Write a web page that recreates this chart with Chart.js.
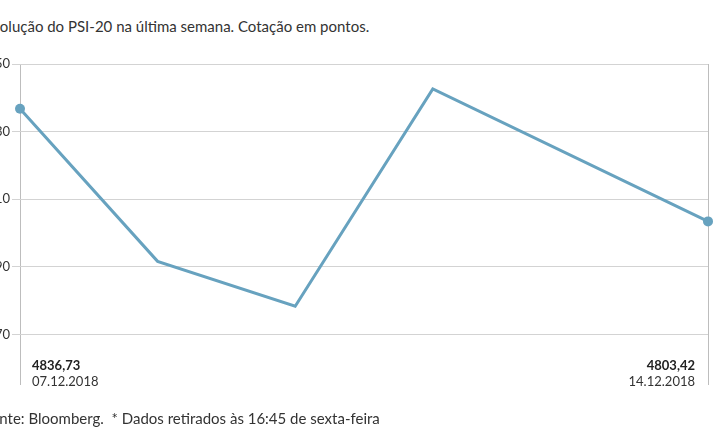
<!DOCTYPE html>
<html>
<head>
<meta charset="utf-8">
<script src="https://cdn.jsdelivr.net/npm/chart.js@4/dist/chart.umd.min.js"></script>
<style>
  html, body { margin: 0; padding: 0; background: #fff; overflow: hidden; }
  body { width: 715px; height: 445px; position: relative; font-family: Lato, "Noto Sans", sans-serif; color: #333; }
  #title { position: absolute; left: -16px; top: 17px; font-size: 15px; white-space: nowrap; }
  #footer { position: absolute; left: -17px; top: 409px; font-size: 15px; white-space: nowrap; }
  #wrap { position: absolute; left: -40px; top: 0; width: 755px; height: 445px; }
</style>
</head>
<body>
<div id="title">Evolução do PSI-20 na última semana. Cotação em pontos.</div>
<div id="wrap"><canvas id="c"></canvas></div>
<div id="footer">Fonte: Bloomberg.&nbsp; * Dados retirados às 16:45 de sexta-feira</div>
<script>
const categories = ['07.12.2018', '10.12.2018', '11.12.2018', '12.12.2018', '13.12.2018', '14.12.2018'];
const values = [4836.73, 4791.6, 4778.3, 4842.6, null, 4803.42];
const yTicks = [4770, 4790, 4810, 4830, 4850];

const lineColor = '#67a2bf';
const last = values.length - 1;
const fmt = v => v.toFixed(2).replace('.', ',');

const endLabels = {
  id: 'endLabels',
  afterDraw(chart) {
    const ctx = chart.ctx;
    const xs = chart.scales.x;
    ctx.save();
    ctx.fillStyle = '#222';
    ctx.textBaseline = 'middle';
    const x0 = xs.getPixelForValue(0) + 12;
    const x1 = xs.getPixelForValue(last) - 13;
    ctx.font = 'bold 13px Lato, "Noto Sans", sans-serif';
    ctx.textAlign = 'left';
    ctx.fillText(fmt(values[0]), x0, 366);
    ctx.textAlign = 'right';
    ctx.fillText(fmt(values[last]), x1, 366);
    ctx.font = '13px Lato, "Noto Sans", sans-serif';
    ctx.fillStyle = '#333';
    ctx.textAlign = 'left';
    ctx.fillText(categories[0], x0, 382);
    ctx.textAlign = 'right';
    ctx.fillText(categories[last], x1, 382);
    ctx.restore();
  }
};

new Chart(document.getElementById('c'), {
  type: 'line',
  data: {
    labels: categories,
    datasets: [{
      data: values,
      borderColor: lineColor,
      backgroundColor: lineColor,
      borderWidth: 3,
      spanGaps: true,
      tension: 0,
      clip: false,
      pointRadius: ctx => (ctx.dataIndex === 0 || ctx.dataIndex === last) ? 5 : 0,
      pointHoverRadius: 0,
      pointBorderWidth: 0
    }]
  },
  options: {
    responsive: true,
    maintainAspectRatio: false,
    animation: false,
    events: [],
    layout: { padding: { top: 64, bottom: 60, left: 0, right: 7 } },
    plugins: { legend: { display: false }, tooltip: { enabled: false } },
    scales: {
      x: {
        offset: false,
        ticks: { display: false },
        grid: {
          drawTicks: false,
          color: ctx => (ctx.index === 0 || ctx.index === last) ? '#bdbdbd' : 'rgba(0,0,0,0)',
          lineWidth: 1
        },
        border: { display: false },
        afterFit: s => { s.height = 0; }
      },
      y: {
        min: 4755,
        max: 4850,
        afterBuildTicks: s => { s.ticks = yTicks.map(v => ({ value: v })); },
        afterFit: s => { s.width = 60; },
        ticks: {
          padding: 2,
          color: '#333',
          font: { family: 'Lato, "Noto Sans", sans-serif', size: 13 },
          callback: v => String(v)
        },
        grid: { color: '#d3d3d3', lineWidth: 1, tickLength: 8, drawTicks: true },
        border: { display: false }
      }
    }
  },
  plugins: [endLabels]
});
</script>
</body>
</html>
